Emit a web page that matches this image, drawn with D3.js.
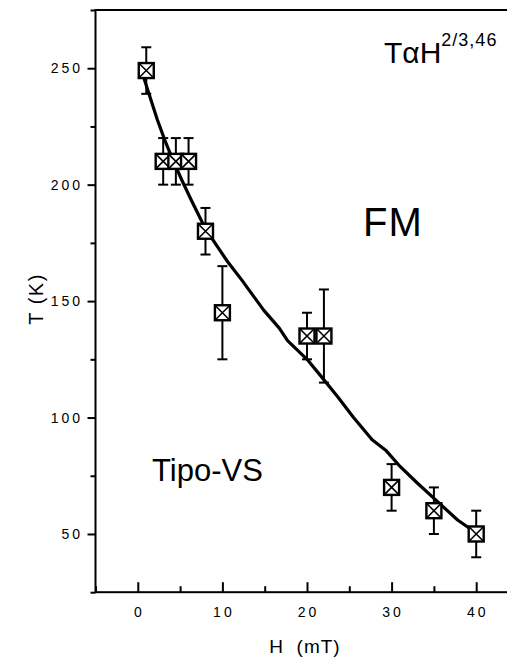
<!DOCTYPE html>
<html>
<head>
<meta charset="utf-8">
<script src="https://cdn.jsdelivr.net/npm/d3@7"></script>
<style>
  body { margin: 0; background: #fff; }
  svg { display: block; }
  text { font-family: "Liberation Sans", Arial, Helvetica, sans-serif; fill: #000; }
</style>
</head>
<body>
<svg id="chart" width="507" height="668"></svg>
<script>
// Measured transition points: field H (mT), temperature T (K), error (K)
const fieldH = [1, 3, 4.5, 6, 8, 10, 20, 22, 30, 35, 40];
const tempT  = [249, 210, 210, 210, 180, 145, 135, 135, 70, 60, 50];
const errT   = [10, 10, 10, 10, 10, 20, 10, 20, 10, 10, 10];

// Fitted boundary curve T ~ H^(2/3.46)
const fitH = [0.7, 1.5, 2.3, 3.2, 4.1, 5.2, 6.3, 8, 10.6, 12.3, 14.9, 16.7, 17.7, 20, 21.6, 23.6, 25.5, 27.7, 29.3, 31, 33, 35.4, 37.8, 39.5, 40.1];
const fitT = [246, 237, 228, 219, 211, 202, 193.5, 181, 167, 159, 146, 138.5, 133, 125, 118, 109, 100, 90.5, 86, 79, 72, 64, 56, 51.7, 49.6];

const xMajor = [0, 10, 20, 30, 40, 50];
const xMinor = [-5, 5, 15, 25, 35, 45];
const yMajor = [50, 100, 150, 200, 250];
const yMinor = [25, 75, 125, 175, 225, 275];

const svg = d3.select("#chart");
const x = d3.scaleLinear().domain([-5, 50]).range([95.5, 560.8]);
const y = d3.scaleLinear().domain([25, 275]).range([592.2, 10]);

// Frame
const frame = svg.append("g").attr("fill", "none").attr("stroke", "#000").attr("stroke-width", 2);
frame.append("rect")
  .attr("x", x(-5)).attr("y", y(275))
  .attr("width", x(50) - x(-5)).attr("height", y(25) - y(275));

// X axis (ticks pointing inward)
const xAxis = svg.append("g").attr("transform", `translate(0,${y(25)})`);
xAxis.call(d3.axisBottom(x).tickValues(xMajor).tickSize(-10).tickFormat(""));
xAxis.call(g => g.select(".domain").remove());
xAxis.append("g").call(d3.axisBottom(x).tickValues(xMinor).tickSize(-6).tickFormat(""))
  .call(g => g.select(".domain").remove());
xAxis.selectAll("line").attr("stroke", "#000").attr("stroke-width", 2);
svg.append("g").selectAll("text").data(xMajor.filter(d => d <= 40)).join("text")
  .attr("x", d => x(d) + 1.5).attr("y", 617)
  .attr("text-anchor", "middle").attr("font-size", 14).attr("letter-spacing", 3)
  .text(d => d);

// Y axis (ticks pointing outward)
const yAxis = svg.append("g").attr("transform", `translate(${x(-5)},0)`);
yAxis.call(d3.axisLeft(y).tickValues(yMajor).tickSize(8).tickFormat(""));
yAxis.call(g => g.select(".domain").remove());
yAxis.append("g").call(d3.axisLeft(y).tickValues(yMinor).tickSize(5).tickFormat(""))
  .call(g => g.select(".domain").remove());
yAxis.selectAll("line").attr("stroke", "#000").attr("stroke-width", 2);
svg.append("g").selectAll("text").data(yMajor).join("text")
  .attr("x", 83).attr("y", d => y(d) + 5)
  .attr("text-anchor", "end").attr("font-size", 14).attr("letter-spacing", 3)
  .text(d => d);

// Axis titles
svg.append("text").attr("x", 305).attr("y", 653).attr("text-anchor", "middle")
  .attr("font-size", 19).attr("letter-spacing", 1).attr("xml:space", "preserve").text("H  (mT)");
svg.append("text").attr("transform", "translate(43,299) rotate(-90)").attr("text-anchor", "middle")
  .attr("font-size", 20).attr("letter-spacing", 1.5).text("T (K)");

// Fitted curve
const fit = fitH.map((h, i) => [h, fitT[i]]);
svg.append("path").datum(fit)
  .attr("fill", "none").attr("stroke", "#000").attr("stroke-width", 3.2)
  .attr("stroke-linejoin", "round")
  .attr("d", d3.line().x(d => x(d[0])).y(d => y(d[1])));

// Error bars and markers
const pts = fieldH.map((h, i) => ({ h, t: tempT[i], e: errT[i] }));
const eb = svg.append("g").attr("stroke", "#000").attr("stroke-width", 2);
pts.forEach(p => {
  const cx = x(p.h);
  eb.append("line").attr("x1", cx).attr("x2", cx).attr("y1", y(p.t + p.e)).attr("y2", y(p.t - p.e));
  [p.t + p.e, p.t - p.e].forEach(v => {
    eb.append("line").attr("x1", cx - 5).attr("x2", cx + 5).attr("y1", y(v)).attr("y2", y(v));
  });
});
const s = 7.5;
const mk = svg.append("g").selectAll("g").data(pts).join("g")
  .attr("transform", d => `translate(${x(d.h)},${y(d.t)})`);
mk.append("rect").attr("x", -s).attr("y", -s).attr("width", 2 * s).attr("height", 2 * s)
  .attr("fill", "#fff").attr("stroke", "#000").attr("stroke-width", 2.4);
mk.append("path").attr("d", `M${-s},${-s}L${s},${s}M${s},${-s}L${-s},${s}`)
  .attr("stroke", "#000").attr("stroke-width", 1.6);

// Annotations
const ann = svg.append("text").attr("x", 384).attr("y", 63).attr("font-size", 30);
ann.append("tspan").text("T\u03B1H");
ann.append("tspan").attr("dy", -17).attr("font-size", 18).attr("letter-spacing", 1).text("2/3,46");
svg.append("text").attr("x", 363).attr("y", 236).attr("font-size", 40).attr("letter-spacing", 1).text("FM");
svg.append("text").attr("x", 152).attr("y", 481).attr("font-size", 31).text("Tipo-VS");
</script>
</body>
</html>
